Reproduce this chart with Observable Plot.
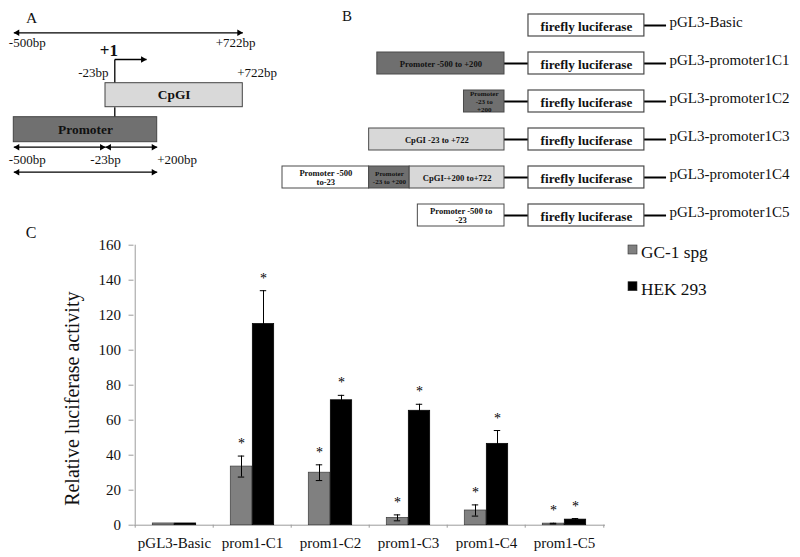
<!DOCTYPE html>
<html>
<head>
<meta charset="utf-8">
<script src="https://cdn.jsdelivr.net/npm/d3@7"></script>
<script src="https://cdn.jsdelivr.net/npm/@observablehq/plot@0.6"></script>
<style>
  body { margin: 0; background: #fff; }
  #wrap { position: relative; width: 800px; height: 557px; overflow: hidden; background: #fff;
          font-family: "Liberation Serif", "Times New Roman", serif; }
  #wrap > svg { position: absolute; left: 0; top: 0; }
</style>
</head>
<body>
<div id="wrap"></div>
<script>
// ---------------- DATA ----------------
// Panel C: luciferase assay
const categories = ["pGL3-Basic", "prom1-C1", "prom1-C2", "prom1-C3", "prom1-C4", "prom1-C5"];
const series = ["GC-1 spg", "HEK 293"];
const gcMean  = [1.0, 33.5, 30.0, 4.2, 8.4, 0.9];
const gcErr   = [0,   6.0,  4.5,  1.7, 3.2, 0.2];
const hekMean = [1.0, 115,  71.4, 65.4, 46.5, 3.2];
const hekErr  = [0,   19,   2.8,  3.7,  7.6,  0.6];
const gcSig   = [false, true, true, true, true, true];
const hekSig  = [false, true, true, true, true, true];
const yTicks  = [0, 20, 40, 60, 80, 100, 120, 140, 160];
const yLabel  = "Relative luciferase activity";

// Panel A: genomic region (bp relative to TSS)
const regionName = ["Promoter", "CpGI"];
const regionFrom = [-500, -23];
const regionTo   = [200, 722];
const tssPos = 1;
const tssArrowEnd = 150;
const arrowFrom  = [-500, -500, -23, -500];
const arrowTo    = [722, -23, 200, 200];
const arrowTrack = ["span", "sub", "sub", "whole"];

// Panel B: constructs
const constructs = ["pGL3-Basic", "pGL3-promoter1C1", "pGL3-promoter1C2", "pGL3-promoter1C3", "pGL3-promoter1C4", "pGL3-promoter1C5"];
const segConstruct = ["pGL3-promoter1C1", "pGL3-promoter1C2", "pGL3-promoter1C3", "pGL3-promoter1C4", "pGL3-promoter1C4", "pGL3-promoter1C4", "pGL3-promoter1C5"];
const segFrom  = [-500, -23, -23, -500, -23, 200, -500];
const segTo    = [200, 200, 722, -23, 200, 722, -23];
const segType  = ["Promoter", "Promoter", "CpGI", "Upstream", "Promoter", "CpGI", "Upstream"];
const segLabel = ["Promoter -500 to +200", "Promoter\n-23 to\n+200", "CpGI -23 to +722", "Promoter -500\nto-23", "Promoter\n-23 to +200", "CpGI-+200 to+722", "Promoter -500 to\n-23"];
const reporterName = "firefly luciferase";

// ---------------- LAYOUT / STYLE ----------------
const W = 800, H = 557;
const FONT = "'Liberation Serif', 'Times New Roman', serif";
const svgStyle = {background: "transparent", fontFamily: FONT, overflow: "visible", color: "#111"};
const wrap = document.getElementById("wrap");

// ================= PANEL C =================
const cLeft = 133.5, cRight = 605, cTop = 244.7, cBottom = 524.7;
const band = (cRight - cLeft) / categories.length;
const barW = 22;
const barInset = (band - barW) / 2;
const capW = 7;
const capInset = (band - capW) / 2;
const axisGray = "#9c9c9c";

const rows = categories.flatMap((c, i) => [
  {category: c, series: series[0], mean: gcMean[i], err: gcErr[i], sig: gcSig[i]},
  {category: c, series: series[1], mean: hekMean[i], err: hekErr[i], sig: hekSig[i]}
]);

const marksC = [
  Plot.ruleY([0], {stroke: axisGray}),
  Plot.ruleX([categories[0]], {x: d => d, y1: 0, y2: 160, dx: -band / 2, stroke: axisGray}),
  Plot.axisY({ticks: yTicks, tickSize: 5, tickPadding: 8, stroke: axisGray, fontSize: 15, label: null}),
  Plot.axisX({tickSize: 0, tickPadding: 12, fontSize: 15, label: null}),
  Plot.axisX({tickSize: 3, tickFormat: () => "", dx: -band / 2, stroke: axisGray, label: null}),
  Plot.axisX({ticks: [categories[categories.length - 1]], tickSize: 3, tickFormat: () => "", dx: band / 2, stroke: axisGray, label: null}),
  Plot.text([yLabel], {frameAnchor: "left", textAnchor: "middle", lineAnchor: "middle", rotate: -90, dx: -61, dy: 13.5, fontSize: 20})
];
series.forEach((s, k) => {
  const data = rows.filter(d => d.series === s);
  const withErr = data.filter(d => d.err > 0);
  const dx = k === 0 ? -barW / 2 : barW / 2;
  marksC.push(
    Plot.barY(data, {x: "category", y: "mean", fill: "series", stroke: k === 0 ? "#3c3c3c" : "#000", strokeWidth: 0.7, insetLeft: barInset, insetRight: barInset, dx}),
    Plot.ruleX(withErr, {x: "category", y1: d => d.mean - d.err, y2: d => d.mean + d.err, dx, stroke: "#000", strokeWidth: 1}),
    Plot.tickY(withErr, {x: "category", y: d => d.mean + d.err, dx, insetLeft: capInset, insetRight: capInset, stroke: "#000", strokeWidth: 1}),
    Plot.tickY(withErr, {x: "category", y: d => d.mean - d.err, dx, insetLeft: capInset, insetRight: capInset, stroke: "#000", strokeWidth: 1}),
    Plot.text(data.filter(d => d.sig), {x: "category", y: d => d.mean + d.err, text: () => "*", dx, dy: -8, lineAnchor: "bottom", fontSize: 14, fill: "#000"})
  );
});

const plotC = Plot.plot({
  width: W, height: H,
  marginLeft: cLeft, marginRight: W - cRight, marginTop: cTop, marginBottom: H - cBottom,
  x: {type: "band", domain: categories, padding: 0},
  y: {domain: [0, 160]},
  color: {domain: series, range: ["#808080", "#000000"]},
  style: svgStyle,
  marks: marksC
});
wrap.appendChild(plotC);

// ================= PANEL A =================
// schematic (non-proportional) bp -> pixel mapping
const bpScale = d3.scaleLinear().domain([-500, -23, 1, 200, 722]).range([13.3, 105, 114.3, 156.7, 242.3]);
const trackY = {span: 32.3, topLabel: 46.7, plusOne: 55, tssTop: 59, cpgiTop: 82.7, cpgiBottom: 106.7,
                promTop: 116.7, promBottom: 141.7, sub: 146.7, subLabel: 163, whole: 171.7};
const regions = regionName.map((n, i) => ({name: n, from: regionFrom[i], to: regionTo[i]}));
const boxY = {Promoter: [trackY.promTop, trackY.promBottom], CpGI: [trackY.cpgiTop, trackY.cpgiBottom]};
const arrows = arrowFrom.map((f, i) => ({from: f, to: arrowTo[i], y: trackY[arrowTrack[i]]}));
const bpText = v => (v > 0 ? "+" : "") + v + "bp";
const headR = 2.4, headOff = 3.6;
const aLabels = [
  {v: arrowFrom[0], y: trackY.topLabel, anchor: "start", dx: -5},
  {v: arrowTo[0], y: trackY.topLabel, anchor: "end", dx: 12.7},
  {v: regionFrom[1], y: trackY.cpgiTop - 6, anchor: "end", dx: 3},
  {v: regionTo[1], y: trackY.cpgiTop - 6, anchor: "start", dx: -5.6},
  {v: arrowFrom[1], y: trackY.subLabel, anchor: "start", dx: -5},
  {v: arrowTo[1], y: trackY.subLabel, anchor: "middle", dx: 0},
  {v: arrowTo[2], y: trackY.subLabel, anchor: "start", dx: 0}
];
const bx = v => bpScale(v);
const marksA = [
  Plot.link(arrows, {x1: d => bx(d.from), x2: d => bx(d.to), y1: "y", y2: "y", stroke: "#000", strokeWidth: 1.3}),
  Plot.dot(arrows, {x: d => bx(d.from), y: "y", symbol: "triangle", r: headR, rotate: -90, fill: "#000", dx: headOff}),
  Plot.dot(arrows, {x: d => bx(d.to), y: "y", symbol: "triangle", r: headR, rotate: 90, fill: "#000", dx: -headOff}),
  // TSS arrow
  Plot.link([tssPos], {x1: bx, x2: bx, y1: trackY.tssTop, y2: trackY.cpgiTop, stroke: "#000", strokeWidth: 1.3}),
  Plot.link([tssPos], {x1: bx, x2: () => bx(tssArrowEnd), y1: trackY.tssTop, y2: trackY.tssTop, stroke: "#000", strokeWidth: 1.3}),
  Plot.dot([tssArrowEnd], {x: bx, y: trackY.tssTop, symbol: "triangle", r: headR, rotate: 90, fill: "#000", dx: -headOff}),
  Plot.link([tssPos], {x1: bx, x2: bx, y1: trackY.cpgiBottom, y2: trackY.promTop, stroke: "#000", strokeWidth: 1.3}),
  Plot.text([tssPos], {x: bx, y: trackY.plusOne, text: () => "+1", fontWeight: "bold", fontSize: 17, lineAnchor: "bottom", dx: -6}),
  // boxes
  Plot.rect(regions, {x1: d => bx(d.from), x2: d => bx(d.to), y1: d => boxY[d.name][0], y2: d => boxY[d.name][1], fill: "name", stroke: "#444", strokeWidth: 1}),
  Plot.text(regions, {x: d => (bx(d.from) + bx(d.to)) / 2, y: d => (boxY[d.name][0] + boxY[d.name][1]) / 2, text: "name", fontWeight: "bold", fontSize: 13.4, fill: "#111"}),
  ...aLabels.map(l => Plot.text([l], {x: d => bx(d.v), y: "y", text: d => bpText(d.v), textAnchor: l.anchor, dx: l.dx, lineAnchor: "bottom", fontSize: 13}))
];
const plotA = Plot.plot({
  width: W, height: H, margin: 0,
  x: {type: "identity", axis: null},
  y: {type: "identity", axis: null},
  color: {domain: regionName, range: ["#707070", "#d9d9d9"]},
  style: svgStyle,
  marks: marksA
});
wrap.appendChild(plotA);

// ================= PANEL B =================
const segments = [];
constructs.forEach(c => {
  const idx = segConstruct.map((s, i) => s === c ? i : -1).filter(i => i >= 0);
  const total = d3.sum(idx, i => segTo[i] - segFrom[i]);
  let pos = -total;
  idx.forEach(i => {
    const len = segTo[i] - segFrom[i];
    segments.push({construct: c, x1: pos, x2: pos + len, type: segType[i], label: segLabel[i], len});
    pos += len;
  });
});
const withInsert = constructs.filter(c => segConstruct.includes(c));
const lucStart = 132, lucEnd = 770, tailEnd = 892, labelX = 908;

const plotB = Plot.plot({
  width: W, height: H, margin: 0,
  x: {domain: [-1222, 0], range: [282, 504], axis: null},
  y: {type: "band", domain: constructs, range: [11.5, 229], paddingInner: 0.409, paddingOuter: 0, axis: null},
  color: {domain: ["Promoter", "CpGI", "Upstream"], range: ["#6f6f6f", "#d8d8d8", "#ffffff"]},
  style: svgStyle,
  marks: [
    Plot.ruleY(withInsert, {y: d => d, x1: 0, x2: lucStart, stroke: "#000", strokeWidth: 2}),
    Plot.ruleY(constructs, {y: d => d, x1: lucEnd, x2: tailEnd, stroke: "#000", strokeWidth: 2}),
    Plot.barX(segments, {y: "construct", x1: "x1", x2: "x2", fill: "type", stroke: "#4a4a4a", strokeWidth: 1}),
    Plot.text(segments, {y: "construct", x: d => (d.x1 + d.x2) / 2, text: "label", fontWeight: "bold",
      fontSize: d => d.len < 300 ? 7 : 8.6, lineHeight: 1.1, fill: "#111"}),
    Plot.barX(constructs, {y: d => d, x1: lucStart, x2: lucEnd, fill: "#fff", stroke: "#4a4a4a", strokeWidth: 1.2}),
    Plot.text(constructs, {y: d => d, x: (lucStart + lucEnd) / 2, text: () => reporterName, fontWeight: "bold", fontSize: 13.2, dy: 1, fill: "#111"}),
    Plot.text(constructs, {y: d => d, x: labelX, text: d => d, textAnchor: "start", fontSize: 15, dy: -3, fill: "#111"})
  ]
});
wrap.appendChild(plotB);

// ================= Panel letters & legend =================
const over = d3.select(wrap).append("svg")
  .attr("width", W).attr("height", H)
  .style("font-family", FONT).style("background", "transparent");
const letters = [{t: "A", x: 31.5, y: 23.3, s: 15.5}, {t: "B", x: 347, y: 21, s: 15}, {t: "C", x: 31, y: 238, s: 16}];
over.selectAll("text.letter").data(letters).join("text")
  .attr("class", "letter")
  .attr("x", d => d.x).attr("y", d => d.y).attr("text-anchor", "middle")
  .attr("font-size", d => d.s).attr("fill", "#111").text(d => d.t);
const legendColors = ["#808080", "#000000"];
const lg = over.selectAll("g.lg").data(series).join("g").attr("class", "lg")
  .attr("transform", (d, i) => `translate(628, ${245 + i * 36.7})`);
lg.append("rect").attr("width", 9).attr("height", 9)
  .attr("fill", (d, i) => legendColors[i]).attr("stroke", "#333").attr("stroke-width", 0.6);
lg.append("text").attr("x", 13).attr("y", 13.3).attr("font-size", 17.3).attr("fill", "#111").text(d => d);
</script>
</body>
</html>
